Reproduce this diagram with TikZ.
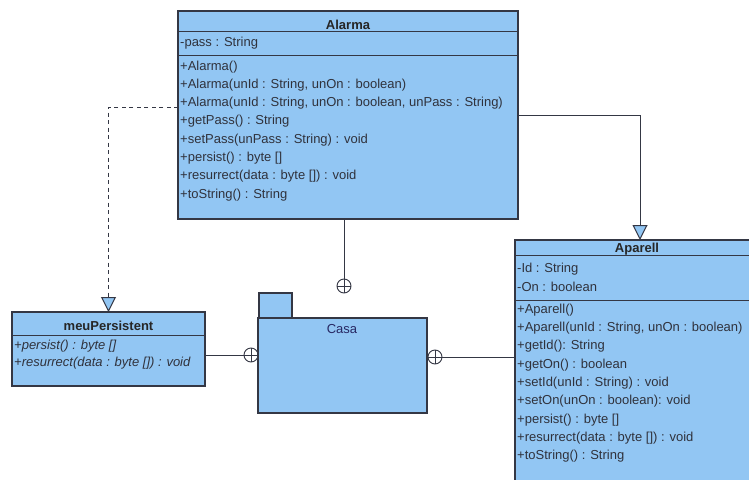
\documentclass[tikz,border=0pt]{standalone}
\usepackage{fontspec}
\setmainfont{Liberation Sans}
\usetikzlibrary{arrows.meta}
\definecolor{umlfill}{RGB}{146,198,243}
\definecolor{umlline}{RGB}{52,55,68}
\definecolor{umltext}{RGB}{48,50,60}
\begin{document}
\begin{tikzpicture}[x=1pt,y=-1pt,
  classbox/.style={draw=umlline, fill=umlfill, line width=1.1pt, anchor=north west,
    inner sep=0pt, outer sep=0pt},
  sepline/.style={draw=umlline, line width=1pt},
  member/.style={anchor=base west, inner sep=0pt, text=umltext,
    font=\fontsize{13}{15}\selectfont},
  absmember/.style={member, font=\fontsize{13}{15}\selectfont\itshape},
  classname/.style={anchor=base, inner sep=0pt, text=black!85,
    font=\fontsize{13}{15}\selectfont\bfseries},
  conn/.style={draw=umlline, line width=1pt},
  realize/.style={conn, dash pattern=on 4pt off 3.5pt,
    -{Triangle[width=15pt,length=15pt,fill=umlfill,line width=1pt]}},
  generalize/.style={conn,
    -{Triangle[width=15pt,length=15pt,fill=umlfill,line width=1pt]}},
  oplus/.style={circle, draw=umlline, line width=0.9pt, minimum size=14pt,
    inner sep=0pt, outer sep=0pt,
    path picture={\draw[umlline, line width=0.9pt]
      (path picture bounding box.north) -- (path picture bounding box.south)
      (path picture bounding box.west) -- (path picture bounding box.east);}}
]
\useasboundingbox (0,0) rectangle (749,479);
\clip (0,0) rectangle (749,479);
\fill[white] (0,0) rectangle (749,479);

% ---- class Alarma ----
\node[classbox, minimum width=340pt, minimum height=208pt] (alarma) at (178,11) {};
\draw[sepline] (178,31) -- (518,31);
\draw[sepline] (178,55) -- (518,55);
\node[classname] (alarmatitle) at (348,29) {Alarma};
\node[member] (alarmapass) at (180,46) {-pass : String};
\foreach \t [count=\i from 0] in {
    {+Alarma()},
    {+Alarma(unId : String, unOn : boolean)},
    {+Alarma(unId : String, unOn : boolean, unPass : String)},
    {+getPass() : String},
    {+setPass(unPass : String) : void},
    {+persist() : byte []},
    {+resurrect(data : byte []) : void},
    {+toString() : String}}
  \node[member] (alarmaop\i) at (180,70+18.33*\i) {\t};

% ---- class Aparell ----
\node[classbox, minimum width=250pt, minimum height=260pt] (aparell) at (515,240) {};
\draw[sepline] (515,255) -- (765,255);
\draw[sepline] (515,300) -- (765,300);
\node[classname] (aparelltitle) at (637,252.5) {Aparell};
\node[member] (aparellid) at (517,272.7) {-Id : String};
\node[member] (aparellon) at (517,291) {-On : boolean};
\foreach \t [count=\i from 0] in {
    {+Aparell()},
    {+Aparell(unId : String, unOn : boolean)},
    {+getId(): String},
    {+getOn() : boolean},
    {+setId(unId : String) : void},
    {+setOn(unOn : boolean): void},
    {+persist() : byte []},
    {+resurrect(data : byte []) : void},
    {+toString() : String}}
  \node[member] (aparellop\i) at (517,313.3+18.33*\i) {\t};

% ---- interface meuPersistent ----
\node[classbox, minimum width=193pt, minimum height=74pt] (meu) at (12,312) {};
\draw[sepline] (12,335) -- (205,335);
\node[classname] (meutitle) at (108.5,330) {meuPersistent};
\node[absmember] (meuop0) at (14,349) {+persist() : byte []};
\node[absmember] (meuop1) at (14,366) {+resurrect(data : byte []) : void};

% ---- package Casa ----
\node[classbox, minimum width=33pt, minimum height=25pt] (casatab) at (259,293) {};
\node[classbox, minimum width=169pt, minimum height=95pt] (casa) at (258,318) {};
\node[anchor=base, inner sep=0pt, text=umltext!80!blue,
  font=\fontsize{13}{15}\selectfont] (casalabel) at (342,333) {Casa};

% ---- containment markers ----
\node[oplus] (cup) at (344,286) {};
\node[oplus] (cleft) at (251,355) {};
\node[oplus] (cright) at (435,357) {};

% ---- connectors ----
\draw[realize] (alarma.west |- 0,107) -| (meu.north);
\draw[generalize] (alarma.east |- 0,115) -| ([xshift=125pt]aparell.north west);
\draw[conn] (cup.north |- alarma.south) -- (cup.north);
\draw[conn] (meu.east |- cleft) -- (cleft.west);
\draw[conn] (cright.east) -- (aparell.west |- cright);
\end{tikzpicture}
\end{document}
